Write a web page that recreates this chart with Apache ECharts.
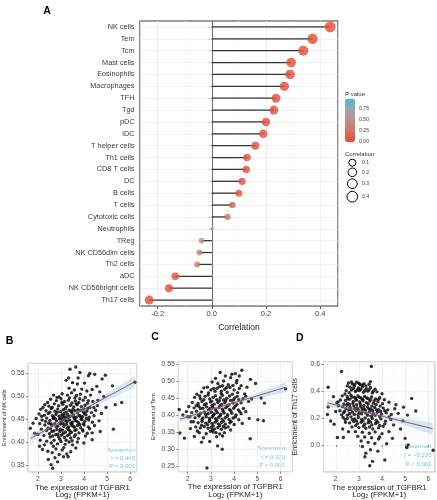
<!DOCTYPE html>
<html><head><meta charset="utf-8">
<script src="https://cdn.jsdelivr.net/npm/echarts@6/dist/echarts.min.js"></script>
<style>html,body{margin:0;padding:0;background:#fff}#c{width:437px;height:500px}</style>
</head><body><div id="c"></div>
<script>
// ---------- Panel A data ----------
const cellTypes = ['NK cells','Tem','Tcm','Mast cells','Eosinophils','Macrophages','TFH','Tgd','pDC','iDC','T helper cells','Th1 cells','CD8 T cells','DC','B cells','T cells','Cytotoxic cells','Neutrophils','TReg','NK CD56dim cells','Th2 cells','aDC','NK CD56bright cells','Th17 cells'];
const correlation = [0.437,0.372,0.338,0.293,0.289,0.268,0.237,0.229,0.200,0.190,0.161,0.130,0.127,0.112,0.100,0.076,0.058,0.001,-0.038,-0.046,-0.054,-0.135,-0.158,-0.231];
const pValues = [0,0,0,0,0,0,0,0,0.0001,0.0002,0.002,0.012,0.014,0.031,0.055,0.14,0.27,0.98,0.47,0.38,0.30,0.009,0.002,0];
const pTicks = [0.00, 0.25, 0.50, 0.75];
const corrLegend = [0.1, 0.2, 0.3, 0.4];

// ---------- Panel B: NK cells ----------
const scatterNK = [
[3.64,.564],[3.39,.559],[4.25,.550],[4.46,.548],[4.19,.545],[4.92,.546],[4.78,.538],[3.82,.552],[5.23,.523],[6.2,.531],[5.63,.487],[5.35,.482],[5.27,.429],[1.67,.431],[1.79,.442],[2.57,.352],[2.64,.344],[3.11,.369],[3.31,.369],
[3.22,.535],[3.5,.530],[3.71,.527],[4.02,.529],[4.55,.522],[3.35,.518],[3.58,.514],[3.9,.516],[4.12,.512],[4.68,.510],[3.05,.506],[3.28,.503],[3.46,.508],[3.67,.502],[3.84,.505],[4.28,.503],[4.85,.500],[2.92,.499],[3.6,.497],[4.05,.498],
[2.55,.494],[2.8,.491],[3.0,.495],[3.15,.489],[3.32,.492],[3.48,.486],[3.62,.490],[3.77,.487],[3.96,.492],[4.15,.485],[4.38,.489],[2.3,.482],[2.48,.479],[2.71,.484],[2.9,.480],[3.08,.483],[3.24,.478],[3.41,.481],[3.55,.477],[3.7,.482],[3.88,.478],[4.04,.481],[4.25,.476],[4.58,.480],[4.95,.476],
[2.12,.472],[2.35,.469],[2.58,.474],[2.74,.468],[2.86,.473],[2.98,.467],[3.1,.471],[3.22,.466],[3.35,.470],[3.47,.465],[3.6,.469],[3.72,.464],[3.85,.470],[3.97,.466],[4.12,.468],[4.32,.465],[4.5,.470],[4.75,.463],[2.05,.462],[2.28,.459],[2.45,.463],[2.63,.458],[2.78,.461],[2.92,.457],[3.04,.460],[3.16,.456],[3.28,.461],[3.4,.457],[3.53,.460],[3.66,.455],[3.79,.459],[3.93,.456],[4.08,.460],[4.22,.455],[4.43,.458],
[1.92,.452],[2.18,.449],[2.38,.453],[2.52,.448],[2.66,.452],[2.8,.447],[2.93,.451],[3.03,.446],[3.14,.450],[3.26,.445],[3.37,.449],[3.5,.444],[3.62,.448],[3.76,.443],[3.9,.450],[4.03,.446],[4.2,.449],[4.36,.444],[4.65,.447],[2.08,.441],[2.3,.438],[2.47,.442],[2.6,.437],[2.73,.441],[2.87,.436],[2.99,.440],[3.12,.435],[3.23,.439],[3.34,.434],[3.46,.438],[3.58,.433],[3.71,.437],[3.85,.432],[4.0,.438],[4.18,.434],[4.45,.437],
[2.15,.429],[2.37,.426],[2.55,.430],[2.69,.425],[2.82,.428],[2.95,.424],[3.07,.427],[3.2,.423],[3.33,.428],[3.45,.422],[3.6,.426],[3.78,.421],[3.95,.425],[4.14,.420],[4.35,.421],[4.7,.424],[2.0,.418],[2.26,.415],[2.5,.419],[2.64,.414],[2.77,.417],[2.9,.412],[3.02,.416],[3.15,.411],[3.28,.415],[3.42,.410],[3.58,.413],[3.75,.409],[4.06,.414],
[2.07,.392],[2.28,.395],[2.43,.381],[2.78,.386],[2.92,.374],[3.64,.388],[3.99,.399],[4.35,.406],[2.38,.403],[2.58,.399],[2.7,.405],[2.85,.397],[3.0,.402],[3.18,.396],[3.35,.401],[3.5,.395],[2.2,.385],[2.62,.378],[3.05,.384],[3.42,.380],[2.45,.363],[2.85,.358],[3.25,.375],[2.74,.367],
[2.42,.487],[2.62,.476],[2.83,.498],[3.03,.487],[3.19,.474],[3.37,.497],[3.52,.472],[3.66,.484],[3.81,.495],[3.99,.473],[4.18,.491],[2.52,.466],[2.69,.455],[2.84,.466],[3.01,.452],[3.13,.463],[3.26,.453],[3.44,.468],[3.58,.452],[3.73,.471],[3.87,.451],[4.02,.463],[4.16,.474],[2.33,.446],[2.57,.441],[2.76,.451],[2.96,.443],[3.09,.457],[3.21,.447],[3.31,.455],[3.43,.442],[3.55,.456],[3.69,.446],[3.83,.457],[3.98,.441],[4.1,.452],[2.44,.431],[2.61,.424],[2.79,.434],[2.97,.429],[3.1,.441],[3.27,.431],[3.39,.425],[3.52,.436],[3.66,.428],[3.82,.439],[3.93,.428],[2.53,.412],[2.86,.418],[3.1,.420],[3.36,.418],[3.63,.417],[2.95,.407],[3.22,.405],[3.48,.404],[2.67,.392],[3.12,.389],[3.71,.401],[4.24,.430],[4.42,.476],[4.6,.492],[3.33,.540],[3.74,.540],[4.35,.515],[2.68,.503],[2.22,.476],[2.16,.457],[1.86,.420],[2.1,.405]
];
const fitXNK = [1.68, 2.5, 3.2, 4.0, 5.0, 6.2];
const fitYNK = [0.409, 0.4315, 0.4505, 0.4723, 0.4995, 0.532];
const bandNK = [0.009, 0.005, 0.0035, 0.0045, 0.008, 0.013];

// ---------- Panel C: Tem ----------
const scatterTem = [
[6.21,.477],[5.02,.386],[5.26,.383],[4.69,.330],[5.3,.435],[5.16,.450],[2.83,.244],[3.49,.299],[3.29,.309],[1.64,.416],[1.67,.347],[1.86,.332],[2.29,.337],[2.6,.320],[2.95,.322],[3.06,.356],[4.33,.532],[4.05,.522],[3.62,.515],[3.85,.510],[4.7,.505],[4.92,.493],[4.55,.482],
[3.05,.497],[3.3,.493],[3.55,.500],[3.75,.489],[4.1,.495],[4.3,.486],[2.85,.482],[3.12,.478],[3.38,.484],[3.6,.476],[3.82,.481],[4.0,.474],[4.22,.478],[2.6,.468],[2.9,.465],[3.18,.470],[3.44,.463],[3.7,.467],[3.92,.461],[4.15,.466],[4.45,.462],[2.4,.461],
[2.3,.452],[2.55,.448],[2.75,.455],[2.95,.447],[3.1,.452],[3.25,.445],[3.4,.451],[3.55,.444],[3.68,.449],[3.85,.443],[4.02,.450],[4.2,.445],[4.38,.448],[2.2,.437],[2.45,.434],[2.62,.440],[2.8,.433],[2.98,.438],[3.14,.432],[3.3,.437],[3.46,.431],[3.6,.436],[3.77,.430],[3.95,.435],[4.12,.431],[4.3,.436],[4.62,.440],
[2.05,.425],[2.28,.421],[2.48,.426],[2.66,.420],[2.82,.424],[2.96,.419],[3.08,.423],[3.2,.418],[3.35,.422],[3.5,.417],[3.64,.421],[3.8,.416],[3.98,.420],[4.18,.415],[4.4,.419],[1.95,.410],[2.18,.407],[2.38,.411],[2.56,.405],[2.72,.409],[2.88,.404],[3.02,.408],[3.15,.403],[3.28,.407],[3.42,.402],[3.57,.406],[3.72,.401],[3.9,.405],[4.08,.400],[4.3,.404],
[2.1,.395],[2.32,.392],[2.5,.397],[2.66,.391],[2.8,.395],[2.94,.390],[3.06,.394],[3.2,.389],[3.33,.393],[3.48,.388],[3.62,.392],[3.78,.387],[3.96,.391],[4.2,.386],[2.25,.380],[2.45,.377],[2.62,.381],[2.78,.376],[2.92,.380],[3.05,.375],[3.18,.379],[3.32,.374],[3.46,.378],[3.62,.373],[3.82,.377],[4.0,.372],[4.35,.375],
[2.35,.365],[2.55,.362],[2.72,.366],[2.88,.361],[3.02,.364],[3.16,.359],[3.3,.363],[3.45,.358],[3.62,.362],[3.85,.356],[2.5,.348],[2.8,.345],[3.1,.350],[3.38,.344],[3.58,.348],[3.25,.336],[2.68,.333],
[2.52,.456],[2.7,.445],[2.88,.459],[3.04,.441],[3.2,.457],[3.36,.442],[3.5,.458],[3.64,.442],[3.8,.456],[3.97,.444],[4.13,.455],[2.38,.428],[2.55,.419],[2.72,.430],[2.9,.415],[3.05,.428],[3.22,.413],[3.38,.427],[3.53,.411],[3.7,.426],[3.86,.412],[4.04,.426],[4.24,.41],[2.46,.400],[2.62,.387],[2.78,.402],[2.95,.385],[3.1,.399],[3.26,.384],[3.4,.398],[3.55,.382],[3.7,.396],[3.87,.381],[4.05,.394],[2.6,.370],[2.86,.371],[3.1,.368],[3.38,.369],[3.54,.366],[3.74,.365],[2.98,.352],[3.22,.348],[3.5,.338],[2.42,.353],[3.0,.474],[3.27,.479],[3.5,.486],[3.68,.481],[3.95,.487],[3.45,.470],[4.12,.502],[3.2,.508],[4.5,.455],[4.75,.447],[4.5,.41],[4.65,.39],[2.15,.38],[2.0,.395],[1.8,.40],[2.12,.36],[3.9,.52],[4.22,.515],[3.4,.525],[2.7,.48]
];
const fitXTem = [1.67, 2.5, 3.2, 4.0, 5.0, 6.21];
const fitYTem = [0.388, 0.405, 0.4195, 0.436, 0.4566, 0.4815];
const bandTem = [0.010, 0.006, 0.004, 0.005, 0.009, 0.015];

// ---------- Panel D: Th17 cells ----------
const scatterTh17 = [
[3.54,.585],[2.25,.548],[1.67,.430],[1.67,.283],[5.28,.347],[5.46,.253],[4.93,.282],[5.1,.223],[6.21,-.038],[5.13,.002],[5.07,-.018],[3.47,-.153],[3.59,-.121],[3.26,-.087],[4.12,-.111],[3.69,.012],[2.07,.056],[2.33,.056],[1.78,.179],[1.93,.155],[1.64,.228],[4.45,.05],[4.8,.12],[5.0,.05],
[2.55,.462],[2.72,.455],[2.9,.468],[3.05,.450],[3.22,.457],[3.5,.472],[2.62,.430],[2.8,.438],[2.98,.425],[3.15,.433],[3.32,.420],[3.5,.428],[3.7,.415],[2.45,.405],[2.68,.410],[2.85,.398],[3.02,.406],[3.2,.392],[3.38,.401],[3.58,.388],[3.78,.396],[4.0,.382],[2.4,.380],
[2.28,.366],[2.5,.360],[2.66,.371],[2.82,.356],[2.96,.365],[3.1,.350],[3.25,.362],[3.4,.346],[3.55,.358],[3.72,.343],[3.9,.352],[4.1,.338],[2.2,.335],[2.42,.331],[2.6,.340],[2.76,.325],[2.9,.334],[3.04,.320],[3.18,.330],[3.32,.316],[3.47,.327],[3.63,.312],[3.82,.322],[4.02,.308],[4.3,.318],[2.05,.315],[2.35,.305],[2.52,.310],
[2.12,.292],[2.3,.285],[2.47,.296],[2.62,.281],[2.78,.290],[2.93,.276],[3.08,.287],[3.22,.272],[3.37,.283],[3.52,.268],[3.68,.279],[3.85,.264],[4.05,.275],[4.25,.262],[4.55,.270],[2.18,.255],[2.38,.251],[2.56,.260],[2.72,.246],[2.88,.255],[3.02,.241],[3.16,.252],[3.3,.238],[3.46,.248],[3.62,.234],[3.8,.244],[3.98,.230],[4.18,.240],[4.4,.228],[4.7,.236],[2.25,.225],[2.5,.222],
[2.32,.205],[2.5,.198],[2.66,.210],[2.82,.195],[2.98,.205],[3.12,.190],[3.27,.202],[3.42,.187],[3.58,.198],[3.75,.183],[3.95,.195],[4.15,.178],[4.38,.190],[2.42,.170],[2.6,.165],[2.78,.175],[2.94,.160],[3.1,.170],[3.25,.155],[3.4,.166],[3.56,.150],[3.72,.161],[3.9,.146],[4.12,.158],[2.7,.135],[3.0,.130],[3.3,.125],[3.6,.120],[3.85,.128],
[2.85,.100],[3.15,.095],[3.45,.088],[3.7,.098],[4.0,.085],[2.95,.065],[3.25,.060],[3.55,.055],[3.85,.045],[3.1,.030],[3.4,.020],[4.2,.010],[3.15,-.010],[3.5,-.035],[3.82,-.045],[3.3,-.060],
[2.5,.44],[2.68,.47],[2.82,.45],[3.0,.46],[3.14,.445],[3.3,.44],[3.44,.452],[2.58,.39],[2.76,.42],[2.92,.41],[3.08,.415],[3.25,.405],[3.44,.412],[3.62,.4],[2.52,.345],[2.7,.355],[2.86,.345],[3.02,.355],[3.16,.34],[3.34,.35],[3.5,.338],[3.66,.33],[3.85,.34],[2.6,.3],[2.74,.31],[2.9,.3],[3.06,.305],[3.22,.295],[3.4,.305],[3.56,.29],[3.74,.3],[3.92,.29],[2.44,.27],[2.64,.265],[2.82,.27],[2.98,.262],[3.14,.27],[3.28,.26],[3.44,.268],[3.6,.255],[3.76,.262],[3.94,.25],[4.12,.255],[2.34,.24],[2.6,.235],[2.8,.228],[2.96,.225],[3.12,.232],[3.38,.222],[3.54,.215],[3.7,.222],[3.9,.212],[4.3,.21],[2.4,.19],[2.72,.188],[2.9,.18],[3.18,.18],[3.5,.172],[3.82,.17],[4.05,.14],[4.5,.15],[2.86,.145],[3.2,.14],[3.46,.135],[2.3,.12],[2.55,.1],[4.3,.1],[3.9,.06],[2.1,.32],[1.9,.36],[2.0,.25],[4.6,.3],[4.9,.18]
];
const fitXTh17 = [1.64, 2.5, 3.2, 4.0, 5.0, 6.19];
const fitYTh17 = [0.314, 0.2778, 0.2483, 0.2146, 0.1725, 0.1224];
const bandTh17 = [0.030, 0.015, 0.010, 0.012, 0.025, 0.045];

const spearmanR = ['r = 0.440', 'r = 0.370', 'r = \u22120.230'];
const spearmanP = ['P < 0.001', 'P < 0.001', 'P < 0.001'];

// ---------- Build ----------
const FONT = '"Liberation Sans", Arial, Helvetica, sans-serif';
const absC = correlation.map(Math.abs);
const cMin = Math.min(...absC), cMax = Math.max(...absC);
const sizeOf = v => 3.5 + 7.5 * Math.sqrt(Math.max(0, Math.abs(v) - cMin) / (cMax - cMin));
const pMax = Math.max(...pValues);
const pColors = ['#E64B35', '#D27461', '#BC9088', '#9CA6AE', '#4DBBD5'];

const grids = [
  {left:140, top:21, width:198, height:285},
  {left:26.7, top:363.3, width:110, height:109.4},
  {left:178.3, top:361.7, width:114, height:110},
  {left:323.5, top:361.7, width:111.5, height:111}
].map((g, i) => Object.assign({show:true, backgroundColor:'#fff',
   borderColor: i === 0 ? '#3d3d3d' : '#a0a0a0', borderWidth: i === 0 ? 1.2 : 0.8, containLabel:false}, g));

function sxAxis(gi, min, max) {
  return {gridIndex:gi, type:'value', min, max,
    axisLine:{show:false}, axisTick:{show:true, length:2, lineStyle:{color:'#555', width:0.7}},
    axisLabel:{fontSize:6.8, color:'#4D4D4D', margin:3.5, showMinLabel:false, showMaxLabel:false, fontFamily:FONT},
    splitLine:{lineStyle:{color:'#E8E8E8', width:0.7}},
    name:'The expression of TGFBR1\nLog\u2082 (FPKM+1)', nameLocation:'middle', nameGap:10.5,
    nameTextStyle:{fontSize:7.8, lineHeight:7.6, color:'#222', fontFamily:FONT}};
}
function syAxis(gi, min, max, name, dec, fs, gap) {
  return {gridIndex:gi, type:'value', min, max,
    axisLine:{show:false}, axisTick:{show:true, length:2, lineStyle:{color:'#555', width:0.7}},
    axisLabel:{fontSize:6.8, color:'#4D4D4D', margin:3.5, showMinLabel:false, showMaxLabel:false, fontFamily:FONT,
      formatter: v => v.toFixed(dec)},
    splitLine:{lineStyle:{color:'#E8E8E8', width:0.7}},
    name, nameLocation:'middle', nameGap:gap, nameRotate:90,
    nameTextStyle:{fontSize:fs, color:'#222', fontFamily:FONT}};
}

const xAxes = [
  {gridIndex:0, type:'value', min:-0.265, max:0.466, splitNumber:4,
   axisLine:{show:false}, axisTick:{show:true, length:3, lineStyle:{color:'#333', width:0.8}},
   axisLabel:{fontSize:7.5, color:'#444', margin:4, showMinLabel:false, showMaxLabel:false, fontFamily:FONT,
     formatter: v => v.toFixed(1)},
   splitLine:{lineStyle:{color:'#EBEBEB', width:0.8}},
   name:'Correlation', nameLocation:'middle', nameGap:15.5,
   nameTextStyle:{fontSize:8.5, color:'#222', fontFamily:FONT}},
  sxAxis(1, 1.57, 6.28),
  sxAxis(2, 1.6, 6.5),
  sxAxis(3, 1.47, 6.29)
];
const yAxes = [
  {gridIndex:0, type:'category', data:cellTypes, inverse:true,
   axisLine:{show:false}, axisTick:{show:true, alignWithLabel:true, interval:0, length:3, lineStyle:{color:'#333', width:0.8}},
   axisLabel:{fontSize:7.3, color:'#3a3a3a', margin:5.5, interval:0, fontFamily:FONT},
   splitLine:{show:false}},
  syAxis(1, 0.336, 0.572, 'Enrichment of NK cells', 2, 5.6, 21),
  syAxis(2, 0.233, 0.557, 'Enrichment of Tem', 2, 5.6, 21.5),
  syAxis(3, -0.2, 0.62, 'Enrichment of Th17 cells', 1, 7, 25)
];

const mlBase = {silent:true, symbol:['none','none'], label:{show:false}, animation:false, z:1};
const series = [];
// Panel A grid lines (below stems)
series.push({type:'line', xAxisIndex:0, yAxisIndex:0, data:[], z:1, silent:true,
  markLine: Object.assign({}, mlBase, {data: [
    ...[-0.1, 0.1, 0.3].map(v => ({xAxis:v, lineStyle:{color:'#F4F4F4', width:0.5, type:'solid'}})),
    ...cellTypes.map(c => ({yAxis:c, lineStyle:{color:'#EBEBEB', width:0.8, type:'solid'}})),
    {xAxis:0, lineStyle:{color:'#6e6e6e', width:1.1, type:'solid'}}
  ]})});
series.push({type:'bar', xAxisIndex:0, yAxisIndex:0, data:correlation, barWidth:1.3,
  itemStyle:{color:'#333'}, z:3, silent:true});
series.push({type:'scatter', xAxisIndex:0, yAxisIndex:0, z:4, silent:true,
  data: correlation.map((v, i) => [v, cellTypes[i], pValues[i]]),
  symbolSize: d => sizeOf(d[0])});

const panels = [
  {gi:1, pts:scatterNK, fx:fitXNK, fy:fitYNK, bw:bandNK, mx:[2.5,3.5,4.5,5.5], my:[0.375,0.425,0.475,0.525]},
  {gi:2, pts:scatterTem, fx:fitXTem, fy:fitYTem, bw:bandTem, mx:[2.5,3.5,4.5,5.5], my:[0.275,0.325,0.375,0.425,0.475,0.525]},
  {gi:3, pts:scatterTh17, fx:fitXTh17, fy:fitYTh17, bw:bandTh17, mx:[2.5,3.5,4.5,5.5], my:[-0.1,0.1,0.3,0.5]}
];
panels.forEach(p => {
  const ax = {xAxisIndex:p.gi, yAxisIndex:p.gi};
  series.push(Object.assign({type:'line', data:[], z:1, silent:true,
    markLine:Object.assign({}, mlBase, {data:[
      ...p.mx.map(v => ({xAxis:v, lineStyle:{color:'#F3F3F3', width:0.5, type:'solid'}})),
      ...p.my.map(v => ({yAxis:v, lineStyle:{color:'#F3F3F3', width:0.5, type:'solid'}}))
    ]})}, ax));
  series.push(Object.assign({type:'scatter', data:p.pts, symbolSize:3.4, itemStyle:{color:'#000'}, z:2, silent:true}, ax));
  series.push(Object.assign({type:'custom', z:3, silent:true, data:[[0]],
    renderItem: (params, api) => {
      const up = p.fx.map((x, i) => api.coord([x, p.fy[i] + p.bw[i]]));
      const lo = p.fx.map((x, i) => api.coord([x, p.fy[i] - p.bw[i]])).reverse();
      return {type:'polygon', shape:{points: up.concat(lo)}, style:{fill:'rgba(77,187,213,0.28)'}};
    }}, ax));
  series.push(Object.assign({type:'line', data:p.fx.map((x,i)=>[x, p.fy[i]]), symbol:'none', showSymbol:false,
    lineStyle:{color:'#C0406F', width:1}, z:4, silent:true}, ax));
});

// ---------- graphic texts ----------
const graphic = [];
const txt = (t, x, y, font, fill, align, va) => ({type:'text', x, y, silent:true,
  style:{text:t, font, fill, align:align||'left', verticalAlign:va||'middle'}});
[['A',47,11],['B',9.5,341.5],['C',155,337],['D',299.7,338.3]].forEach(a =>
  graphic.push(txt(a[0], a[1], a[2], 'bold 10.5px ' + FONT, '#000', 'center')));
const spPos = [{x:135, ys:[450,458.3,466.7]}, {x:285, ys:[448.7,457.3,465.5]}, {x:431.5, ys:[446.5,455.7,464.7]}];
spPos.forEach((s, i) => {
  const f = '6px ' + FONT, c = '#6EC3DD';
  graphic.push(txt('Spearman', s.x, s.ys[0], f, c, 'right'));
  graphic.push(txt(spearmanR[i], s.x, s.ys[1], f, c, 'right'));
  graphic.push(txt(spearmanP[i], s.x, s.ys[2], f, c, 'right'));
});
const barTop = 98.5, barH = 43.5;
graphic.push(txt('P value', 345, 94, '6px ' + FONT, '#333'));
pTicks.forEach(v => graphic.push(txt(v.toFixed(2), 359, barTop + barH * (1 - v / pMax), '5.2px ' + FONT, '#444')));
graphic.push(txt('Correlation', 345, 154, '6px ' + FONT, '#333'));
const legYs = [162.7, 172.3, 183.7, 196.7];
corrLegend.forEach((v, i) => {
  graphic.push({type:'circle', silent:true, shape:{cx:352.3, cy:legYs[i], r:sizeOf(v)/2},
    style:{fill:'none', stroke:'#000', lineWidth:1}});
  graphic.push(txt(v.toFixed(1), 362, legYs[i], '5.2px ' + FONT, '#444'));
});

const chart = echarts.init(document.getElementById('c'), null, {renderer:'canvas'});
chart.setOption({
  animation:false,
  textStyle:{fontFamily:FONT},
  grid:grids, xAxis:xAxes, yAxis:yAxes, series,
  visualMap:[{type:'continuous', min:0, max:pMax, dimension:2, seriesIndex:2,
    inRange:{color:pColors}, left:345, top:barTop, itemWidth:10, itemHeight:barH,
    padding:0, calculable:false, text:null, hoverLink:false, show:true}],
  graphic
});
</script></body></html>
